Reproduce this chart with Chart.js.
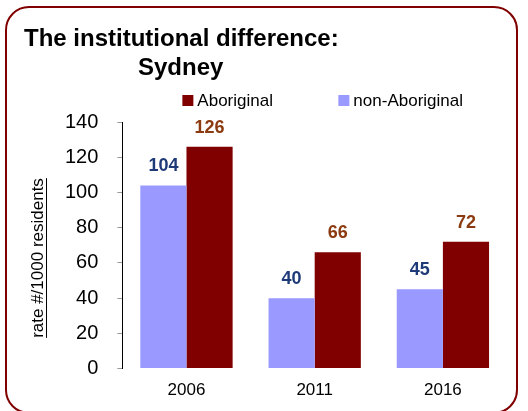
<!DOCTYPE html>
<html lang="en">
<head>
  <meta charset="UTF-8" />
  <title>The institutional difference: Sydney</title>
  <script src="https://cdn.jsdelivr.net/npm/chart.js"></script>
  <style>
    body {
      margin: 0;
      padding: 0;
      background: #ffffff;
      font-family: 'Liberation Sans', Arial, sans-serif;
    }

    .frame {
      position: relative;
      width: 528px;
      height: 411px;
      overflow: hidden;
    }

    /* rounded dark red border */
    .border-box {
      position: absolute;
      left: 5px;
      top: 6px;
      width: 513px;
      height: 408px;
      border: 2px solid #800000;
      border-radius: 24px;
      box-sizing: border-box;
    }

    .title {
      position: absolute;
      left: 24px;
      top: 23px;
      font-weight: bold;
      font-size: 24px;
      line-height: 29px;
      color: #000;
    }

    .title .sub {
      display: block;
      padding-left: 114px;
    }

    .y-title {
      position: absolute;
      left: 38px;
      top: 258px;
      font-size: 17px;
      white-space: nowrap;
      text-decoration: underline;
      text-underline-offset: 3px;
      transform: translate(-50%, -50%) rotate(-90deg);
      color: #000;
    }

    canvas {
      position: absolute;
      left: 0;
      top: 0;
    }
  </style>
</head>
<body>
  <div class="frame">
    <canvas id="barChart" width="528" height="411"></canvas>
    <div class="border-box"></div>
    <div class="title">The institutional difference:<span class="sub">Sydney</span></div>
    <div class="y-title">rate #/1000 residents</div>
  </div>

  <script>
    const years = ['2006', '2011', '2016'];
    const nonAboriginal = [104, 40, 45];
    const aboriginal = [126, 66, 72];
    const legendOrder = ['Aboriginal', 'non-Aboriginal'];

    const labelColors = {
      'non-Aboriginal': '#1f3a78',
      'Aboriginal': '#8c3a10'
    };

    // numbers above each bar
    const valueLabels = {
      id: 'valueLabels',
      afterDatasetsDraw(chart) {
        const ctx = chart.ctx;
        ctx.save();
        ctx.font = 'bold 18px "Liberation Sans", Arial, sans-serif';
        ctx.textAlign = 'center';
        ctx.textBaseline = 'alphabetic';
        chart.data.datasets.forEach((ds, i) => {
          const meta = chart.getDatasetMeta(i);
          ctx.fillStyle = labelColors[ds.label];
          meta.data.forEach((bar, j) => {
            ctx.fillText(ds.data[j], bar.x, bar.y - 14);
          });
        });
        ctx.restore();
      }
    };

    // legend row: Aboriginal first, set wide apart like the original
    const legendRow = {
      id: 'legendRow',
      afterDraw(chart) {
        const ctx = chart.ctx;
        const area = chart.chartArea;
        const starts = [area.left + 60, area.left + 216];
        ctx.save();
        ctx.font = '17px "Liberation Sans", Arial, sans-serif';
        ctx.textBaseline = 'middle';
        legendOrder.forEach((name, k) => {
          const ds = chart.data.datasets.find(d => d.label === name);
          const x = starts[k];
          const y = 100;
          ctx.fillStyle = ds.backgroundColor;
          ctx.fillRect(x, y - 5, 11, 11);
          ctx.fillStyle = '#000';
          ctx.fillText(name, x + 15, y + 1);
        });
        ctx.restore();
      }
    };

    new Chart(document.getElementById('barChart'), {
      type: 'bar',
      data: {
        labels: years,
        datasets: [
          { label: 'non-Aboriginal', data: nonAboriginal, backgroundColor: '#9999ff' },
          { label: 'Aboriginal', data: aboriginal, backgroundColor: '#800000' }
        ]
      },
      options: {
        responsive: false,
        animation: false,
        layout: {
          padding: { left: 46, right: 21, top: 122, bottom: 6 }
        },
        plugins: {
          legend: { display: false },
          title: { display: false },
          tooltip: { enabled: false }
        },
        datasets: {
          bar: { categoryPercentage: 0.72, barPercentage: 1 }
        },
        scales: {
          x: {
            grid: { display: false },
            border: { display: false },
            ticks: {
              color: '#000',
              padding: 4,
              font: { size: 17, family: '"Liberation Sans", Arial, sans-serif' }
            }
          },
          y: {
            min: 0,
            max: 140,
            grid: {
              drawOnChartArea: false,
              drawTicks: true,
              tickLength: 5,
              tickColor: '#999'
            },
            border: { display: true, color: '#000', width: 1 },
            ticks: {
              stepSize: 20,
              color: '#000',
              padding: 19,
              font: { size: 20, family: '"Liberation Sans", Arial, sans-serif' }
            }
          }
        }
      },
      plugins: [valueLabels, legendRow]
    });
  </script>
</body>
</html>
